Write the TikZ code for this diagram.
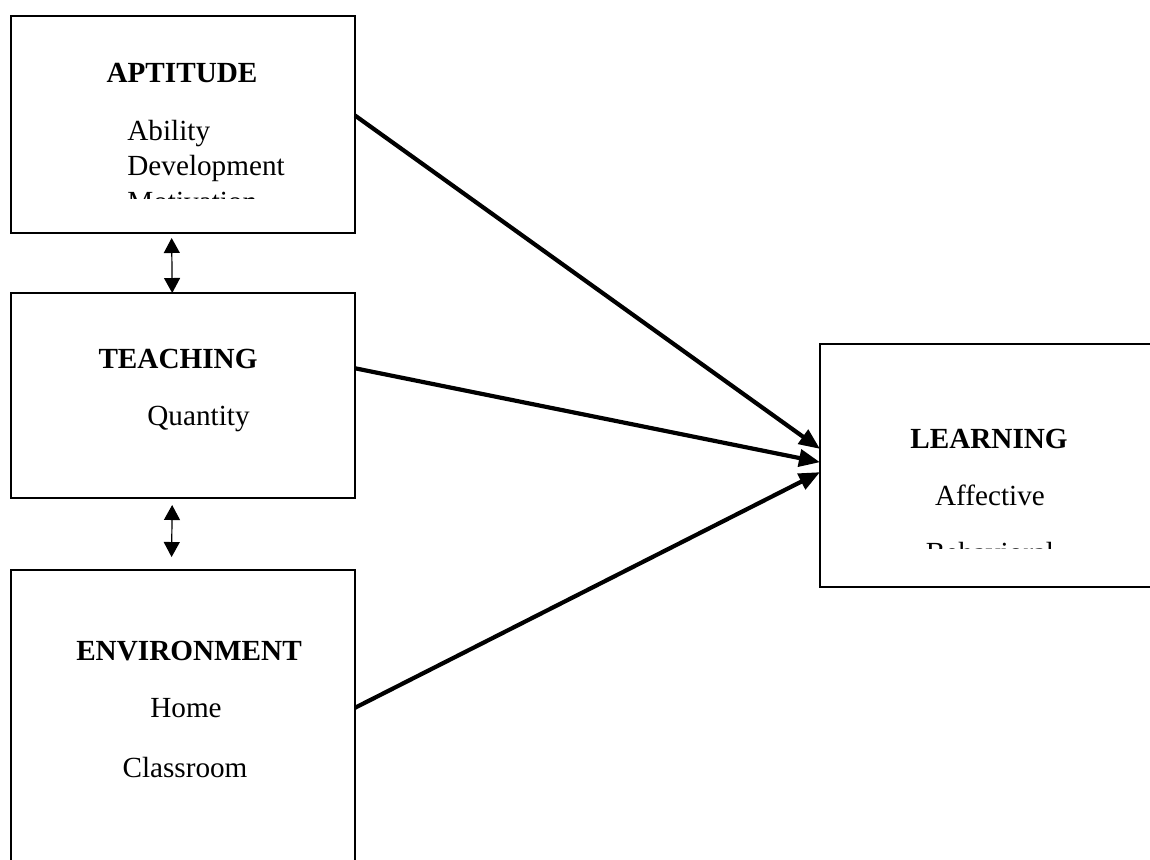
\documentclass[tikz,border=0pt]{standalone}
\usepackage{fontspec}
\setmainfont{Liberation Serif}
\usepackage{tikz}
\usetikzlibrary{arrows.meta, positioning}

\begin{document}
\begin{tikzpicture}[x=0.5pt, y=-0.5pt,
    blockbox/.style={draw, line width=1.3pt, inner sep=0pt, outer sep=0pt, anchor=north west},
    title/.style={inner sep=0pt, anchor=base, font=\fontsize{14.6}{17}\selectfont\bfseries},
    item/.style={inner sep=0pt, anchor=base, font=\fontsize{14.6}{17}\selectfont},
    link/.style={line width=2.1pt, -{Triangle[length=10.5pt, width=8.5pt]}},
    both/.style={line width=0.6pt, {Triangle[length=7.5pt, width=8pt]}-{Triangle[length=7.5pt, width=8pt]}}]
    \useasboundingbox (0,0) rectangle (1150,859);
    \clip (0,0) rectangle (1150,859);
    % boxes
    \node[blockbox, minimum width=172pt, minimum height=108.5pt] (aptitude) at (11,16) {};
    \node[blockbox, minimum width=172pt, minimum height=102.5pt] (teaching) at (11,293) {};
    \node[blockbox, minimum width=172pt, minimum height=165pt] (environment) at (11,570) {};
    \node[blockbox, minimum width=190pt, minimum height=121.5pt] (learning) at (820,344) {};
    % texts
    \node[title] (aptT) at (182,82) {APTITUDE};
    \begin{scope}
        \clip (11,16) rectangle (355,198);
        \node[item, anchor=base west] (ability) at (127,140) {Ability};
        \node[item, anchor=base west] (development) at (127,175) {Development};
        \node[item, anchor=base west] (motivation) at (127,211) {Motivation};
    \end{scope}
    \node[title] (teachT) at (178,368) {TEACHING};
    \node[item, anchor=base west] (quantity) at (147,425) {Quantity};
    \node[title] (envT) at (189,660) {ENVIRONMENT};
    \node[item] (home) at (186,717) {Home};
    \node[item] (classroom) at (185,777) {Classroom};
    \node[title] (learnT) at (989,448) {LEARNING};
    \node[item] (affective) at (990,505) {Affective};
    \begin{scope}
        \clip (820,344) rectangle (1150,548);
        \node[item] (behavioral) at (990,562) {Behavioral};
    \end{scope}
    % arrows
    \draw[both, shorten <=2.5pt] (aptitude.264) -- (teaching.96);
    \draw[both, shorten <=3.5pt, shorten >=6.5pt] (teaching.264) -- (environment.94);
    \draw[link] (aptitude.3) -- (learning.175);
    \draw[link] (teaching.9) -- (learning.179);
    \draw[link] (environment.9) -- (learning.182);
\end{tikzpicture}
\end{document}
